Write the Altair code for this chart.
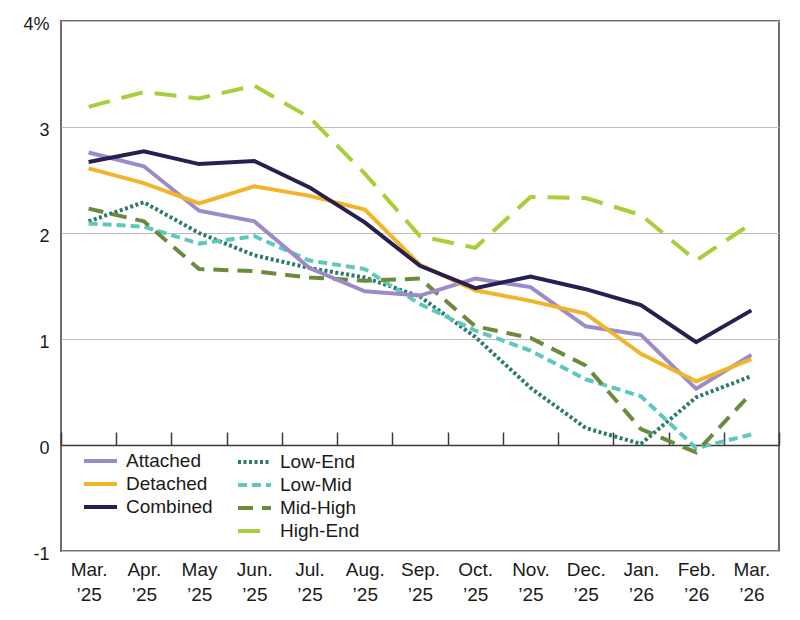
import altair as alt
import pandas as pd

# Monthly values, Mar. 2025 - Mar. 2026 (percent)
months = ["Mar. ’25", "Apr. ’25", "May ’25", "Jun. ’25", "Jul. ’25", "Aug. ’25", "Sep. ’25",
          "Oct. ’25", "Nov. ’25", "Dec. ’25", "Jan. ’26", "Feb. ’26", "Mar. ’26"]

attached = [2.76, 2.63, 2.21, 2.11, 1.67, 1.45, 1.41, 1.57, 1.49, 1.12, 1.04, 0.53, 0.85]
detached = [2.61, 2.47, 2.28, 2.44, 2.35, 2.22, 1.70, 1.46, 1.36, 1.24, 0.86, 0.60, 0.81]
combined = [2.67, 2.77, 2.65, 2.68, 2.43, 2.10, 1.69, 1.48, 1.59, 1.47, 1.32, 0.97, 1.27]
low_end = [2.11, 2.29, 2.00, 1.79, 1.67, 1.58, 1.40, 1.02, 0.54, 0.16, 0.01, 0.45, 0.65]
low_mid = [2.09, 2.06, 1.90, 1.97, 1.74, 1.66, 1.33, 1.08, 0.89, 0.62, 0.46, -0.03, 0.10]
mid_high = [2.23, 2.11, 1.66, 1.64, 1.58, 1.55, 1.57, 1.12, 1.01, 0.75, 0.15, -0.07, 0.49]
high_end = [3.19, 3.33, 3.27, 3.39, 3.09, 2.56, 1.97, 1.86, 2.34, 2.33, 2.17, 1.74, 2.09]

solid_series = ["Attached", "Detached", "Combined"]
dashed_series = ["Low-End", "Low-Mid", "Mid-High", "High-End"]
solid_colors = ["#9d8bc9", "#f0b52a", "#271f4f"]
dashed_colors = ["#2b7a6c", "#5fc8bc", "#6c8a3c", "#a8cf3b"]
dash_patterns = [[3, 2.5], [9, 5], [15, 9], [22, 12]]

series_values = {
    "Attached": attached, "Detached": detached, "Combined": combined,
    "Low-End": low_end, "Low-Mid": low_mid, "Mid-High": mid_high, "High-End": high_end,
}
df = pd.DataFrame([
    {"month": m, "series": s, "value": v}
    for s, vals in series_values.items() for m, v in zip(months, vals)
])

FONT = "Liberation Sans"
TEXT = "#1a1a1a"
WIDTH, HEIGHT = 718, 530
Y_MIN, Y_MAX = -1, 4

y_enc = alt.Y(
    "value:Q",
    scale=alt.Scale(domain=[Y_MIN, Y_MAX], nice=False, zero=False),
    axis=alt.Axis(title=None, values=[-1, 0, 1, 2, 3, 4],
                  labelExpr="datum.value == 4 ? '4%' : '' + datum.value",
                  grid=True, gridColor="#bdbdbd", gridWidth=1, domain=False, ticks=False,
                  labelPadding=12, labelFontSize=18, labelOffset=3, labelFont=FONT,
                  labelColor=TEXT),
)


def x_enc(show_axis):
    axis = alt.Axis(title=None, labelExpr="split(datum.label, ' ')", labelAngle=0,
                    labelFontSize=19, labelLineHeight=25, labelPadding=9, ticks=False,
                    domain=False, grid=False, labelColor=TEXT, labelFont=FONT,
                    labelBaseline="top") if show_axis else None
    return alt.X("month:N", sort=months,
                 scale=alt.Scale(type="point", padding=0.5, domain=months), axis=axis)


legend_common = dict(title=None, orient="none", symbolType="stroke", symbolSize=1089,
                     symbolStrokeWidth=4, labelFontSize=19, labelFont=FONT, labelColor=TEXT,
                     labelOffset=7, rowPadding=3, clipHeight=20, padding=0,
                     direction="vertical")

base = alt.Chart(df)

dashed = base.transform_filter(
    alt.FieldOneOfPredicate(field="series", oneOf=dashed_series)
).mark_line(strokeWidth=4).encode(
    x=x_enc(False), y=y_enc,
    stroke=alt.Stroke("series:N", scale=alt.Scale(domain=dashed_series, range=dashed_colors),
                      legend=alt.Legend(legendX=175, legendY=431, **legend_common)),
    strokeDash=alt.StrokeDash("series:N", scale=alt.Scale(domain=dashed_series, range=dash_patterns),
                              legend=alt.Legend(legendX=175, legendY=431, **legend_common)),
)

solid = base.transform_filter(
    alt.FieldOneOfPredicate(field="series", oneOf=solid_series)
).mark_line(strokeWidth=4).encode(
    x=x_enc(True), y=y_enc,
    color=alt.Color("series:N", scale=alt.Scale(domain=solid_series, range=solid_colors),
                    legend=alt.Legend(legendX=21, legendY=430, **legend_common)),
)

# Zero baseline with month-boundary ticks pointing up
zero_offset = -HEIGHT * (Y_MAX - 0) / (Y_MAX - Y_MIN)
month_ticks = alt.Chart(pd.DataFrame({"month": months})).mark_point(opacity=0).encode(
    x=alt.X("month:N", sort=months,
            scale=alt.Scale(type="band", domain=months, paddingInner=0, paddingOuter=0),
            axis=alt.Axis(orient="top", offset=zero_offset, title=None, labels=False,
                          tickBand="extent", tickSize=13, tickWidth=1.5, tickColor="#3a3a3a",
                          domainColor="#3a3a3a", domainWidth=1.5, grid=False)),
)

chart = alt.layer(month_ticks, dashed, solid).resolve_scale(
    x="independent"
).resolve_axis(
    x="independent"
).properties(
    width=WIDTH, height=HEIGHT,
    autosize=alt.AutoSizeParams(type="none"),
    padding={"left": 61, "top": 21, "right": 21, "bottom": 69},
    background="white",
).configure_view(
    stroke="#6e6e6e", strokeWidth=2,
)

chart.save("out.html", embed_options={"renderer": "svg", "actions": False})
